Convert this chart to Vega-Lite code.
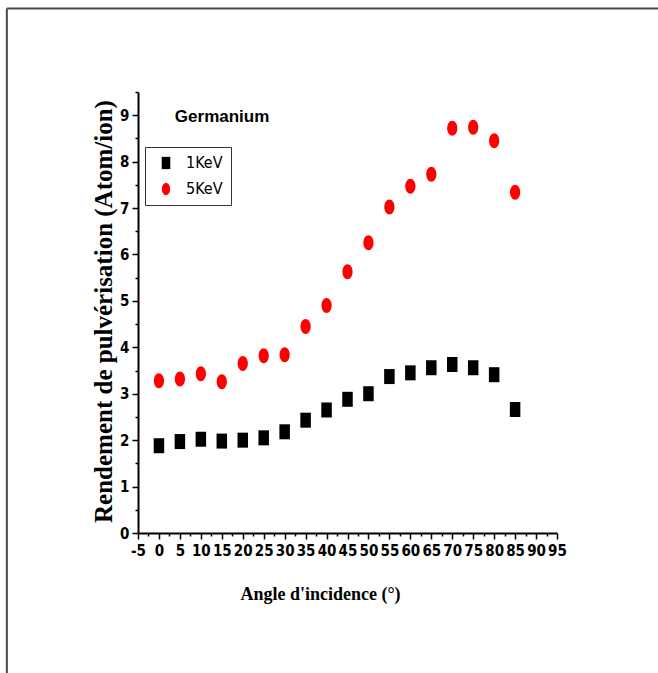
{
  "$schema": "https://vega.github.io/schema/vega-lite/v6.json",
  "autosize": "none",
  "width": 419,
  "height": 441,
  "padding": {"left": 138, "top": 92, "right": 101, "bottom": 140},
  "background": "white",
  "config": {
    "view": {"stroke": null},
    "axis": {
      "grid": false,
      "domainColor": "black",
      "domainWidth": 2,
      "tickColor": "black",
      "tickWidth": 1.5,
      "labelFont": "DejaVu Sans Condensed, Liberation Sans, sans-serif",
      "labelFontWeight": "bold",
      "labelFontSize": 15,
      "labelColor": "black",
      "labelOverlap": false,
      "titleFont": "Liberation Serif",
      "titleFontWeight": "bold",
      "titleColor": "black"
    }
  },
  "layer": [
    {
      "data": {
        "values": [
          {"angle": 0, "yield": 1.88, "energy": "1KeV"},
          {"angle": 5, "yield": 1.97, "energy": "1KeV"},
          {"angle": 10, "yield": 2.02, "energy": "1KeV"},
          {"angle": 15, "yield": 1.98, "energy": "1KeV"},
          {"angle": 20, "yield": 2.0, "energy": "1KeV"},
          {"angle": 25, "yield": 2.05, "energy": "1KeV"},
          {"angle": 30, "yield": 2.18, "energy": "1KeV"},
          {"angle": 35, "yield": 2.43, "energy": "1KeV"},
          {"angle": 40, "yield": 2.65, "energy": "1KeV"},
          {"angle": 45, "yield": 2.88, "energy": "1KeV"},
          {"angle": 50, "yield": 3.0, "energy": "1KeV"},
          {"angle": 55, "yield": 3.37, "energy": "1KeV"},
          {"angle": 60, "yield": 3.45, "energy": "1KeV"},
          {"angle": 65, "yield": 3.56, "energy": "1KeV"},
          {"angle": 70, "yield": 3.63, "energy": "1KeV"},
          {"angle": 75, "yield": 3.56, "energy": "1KeV"},
          {"angle": 80, "yield": 3.41, "energy": "1KeV"},
          {"angle": 85, "yield": 2.66, "energy": "1KeV"},
          {"angle": 0, "yield": 3.28, "energy": "5KeV"},
          {"angle": 5, "yield": 3.32, "energy": "5KeV"},
          {"angle": 10, "yield": 3.43, "energy": "5KeV"},
          {"angle": 15, "yield": 3.26, "energy": "5KeV"},
          {"angle": 20, "yield": 3.65, "energy": "5KeV"},
          {"angle": 25, "yield": 3.82, "energy": "5KeV"},
          {"angle": 30, "yield": 3.84, "energy": "5KeV"},
          {"angle": 35, "yield": 4.45, "energy": "5KeV"},
          {"angle": 40, "yield": 4.9, "energy": "5KeV"},
          {"angle": 45, "yield": 5.63, "energy": "5KeV"},
          {"angle": 50, "yield": 6.25, "energy": "5KeV"},
          {"angle": 55, "yield": 7.02, "energy": "5KeV"},
          {"angle": 60, "yield": 7.47, "energy": "5KeV"},
          {"angle": 65, "yield": 7.73, "energy": "5KeV"},
          {"angle": 70, "yield": 8.72, "energy": "5KeV"},
          {"angle": 75, "yield": 8.74, "energy": "5KeV"},
          {"angle": 80, "yield": 8.45, "energy": "5KeV"},
          {"angle": 85, "yield": 7.34, "energy": "5KeV"}
        ]
      },
      "mark": {"type": "point", "filled": true, "opacity": 1, "size": 225},
      "encoding": {
        "x": {
          "field": "angle",
          "type": "quantitative",
          "scale": {"domain": [-5, 95], "nice": false, "zero": false},
          "axis": {
            "values": [-5, -2.5, 0, 2.5, 5, 7.5, 10, 12.5, 15, 17.5, 20, 22.5, 25, 27.5, 30, 32.5, 35, 37.5, 40, 42.5, 45, 47.5, 50, 52.5, 55, 57.5, 60, 62.5, 65, 67.5, 70, 72.5, 75, 77.5, 80, 82.5, 85, 87.5, 90, 92.5, 95],
            "tickCount": 200,
            "labelExpr": "datum.value % 5 === 0 ? '' + datum.value : ''",
            "tickSize": {"condition": {"test": "datum.value % 5 === 0", "value": 6}, "value": 3},
            "labelPadding": 4,
            "labelFlush": false,
            "labelOverlap": false,
            "labelBound": false,
            "title": "Angle d'incidence (°)",
            "titleFontSize": 18,
            "titleX": 182,
            "titleY": 66,
            "titleAlign": "center",
            "titleBaseline": "alphabetic"
          }
        },
        "y": {
          "field": "yield",
          "type": "quantitative",
          "scale": {"domain": [0, 9.5], "nice": false},
          "axis": {
            "values": [0, 0.5, 1, 1.5, 2, 2.5, 3, 3.5, 4, 4.5, 5, 5.5, 6, 6.5, 7, 7.5, 8, 8.5, 9, 9.5],
            "tickCount": 200,
            "labelExpr": "datum.value % 1 === 0 ? '' + datum.value : ''",
            "tickSize": {"condition": {"test": "datum.value % 1 === 0", "value": 6}, "value": 3},
            "labelPadding": 3,
            "labelFlush": false,
            "labelOverlap": false,
            "title": "Rendement de pulvérisation (Atom/ion)",
            "titleFontSize": 25,
            "titleX": -35,
            "titleY": 219,
            "titleAngle": -90,
            "titleAlign": "center",
            "titleBaseline": "middle"
          }
        },
        "color": {
          "field": "energy",
          "type": "nominal",
          "scale": {"domain": ["1KeV", "5KeV"], "range": ["black", "red"]},
          "legend": {
            "title": null,
            "orient": "none",
            "legendX": 7,
            "legendY": 55,
            "strokeColor": "#333333",
            "padding": 8,
            "symbolSize": 150,
            "symbolOffset": 5,
            "labelOffset": 12,
            "rowPadding": 10,
            "labelFont": "DejaVu Sans Condensed, Liberation Sans, sans-serif",
            "labelFontSize": 16,
            "labelColor": "black"
          }
        },
        "shape": {
          "field": "energy",
          "type": "nominal",
          "scale": {
            "domain": ["1KeV", "5KeV"],
            "range": ["M-0.7,-1H0.7V1H-0.7Z", "M0,-1A0.68,1 0 1,1 0,1A0.68,1 0 1,1 0,-1Z"]
          }
        }
      }
    },
    {
      "data": {"values": [{"label": "Germanium"}]},
      "mark": {"type": "text", "align": "left", "baseline": "middle", "font": "Liberation Sans", "fontWeight": "bold", "fontSize": 17, "fill": "black"},
      "encoding": {
        "text": {"field": "label"},
        "x": {"datum": 3.8, "type": "quantitative"},
        "y": {"datum": 8.96, "type": "quantitative"}
      }
    },
    {
      "data": {"values": [{}]},
      "mark": {"type": "rule", "clip": false, "color": "#4a4a4a", "strokeWidth": 2},
      "encoding": {
        "x": {"datum": -36.3, "type": "quantitative"},
        "x2": {"datum": 120},
        "y": {"datum": 11.3, "type": "quantitative"}
      }
    },
    {
      "data": {"values": [{}]},
      "mark": {"type": "rule", "clip": false, "color": "#4a4a4a", "strokeWidth": 2},
      "encoding": {
        "x": {"datum": -36.3, "type": "quantitative"},
        "y": {"datum": 11.3, "type": "quantitative"},
        "y2": {"datum": -3.2}
      }
    }
  ]
}
